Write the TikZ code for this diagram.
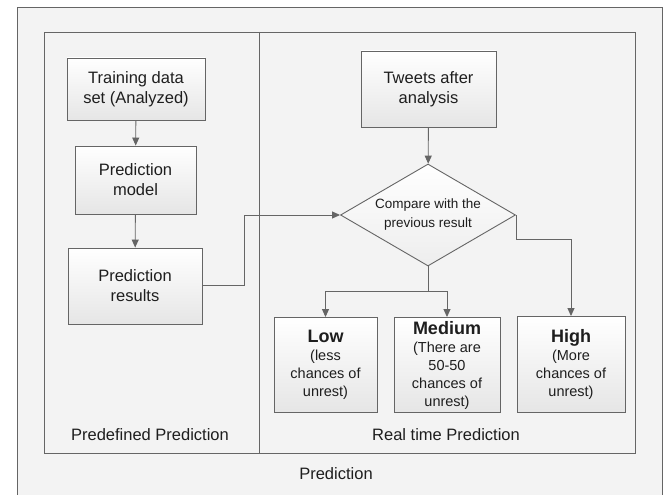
\documentclass[tikz,border=0pt]{standalone}
\usepackage{fontspec}
\setmainfont{Liberation Sans}
\usetikzlibrary{shapes.geometric,arrows.meta}

\definecolor{edge}{HTML}{656565}
\definecolor{ink}{HTML}{1E1E1E}
\definecolor{panel}{HTML}{F3F3F3}

\tikzset{
  boxnode/.style={draw=edge, line width=0.9pt, top color=white, bottom color=black!10,
    align=center, inner sep=0pt, text=ink, font=\fontsize{16.5}{20}\selectfont},
  levelnode/.style={boxnode, font=\fontsize{14.5}{18}\selectfont},
  decision/.style={diamond, draw=edge, line width=0.9pt, top color=white, bottom color=black!7,
    align=center, inner sep=0pt, text=ink, font=\fontsize{13.5}{19}\selectfont},
  flow/.style={draw=edge, line width=0.9pt, -{Triangle[length=8pt,width=7pt]}},
  caption/.style={text=ink, font=\fontsize{16.5}{20}\selectfont},
}

\begin{document}
\begin{tikzpicture}[x=1pt, y=-1pt]
  \useasboundingbox (0,0) rectangle (667,495);

  % outer frame and the two inner panels
  \filldraw[draw=edge, line width=0.9pt, fill=panel] (17,7) rectangle (662,500);
  \draw[edge, line width=0.9pt] (44,32) rectangle (635,453);
  \draw[edge, line width=0.9pt] (259,32) -- (259,453);

  % left panel: predefined prediction
  \node[boxnode, minimum width=138pt, minimum height=62pt] (train) at (136,89)
    {Training data\\set (Analyzed)};
  \node[boxnode, minimum width=121pt, minimum height=68pt] (model) at (135.5,180)
    {Prediction\\model};
  \node[boxnode, minimum width=134pt, minimum height=76pt] (results) at (135,286)
    {Prediction\\results};

  % right panel: real time prediction
  \node[boxnode, minimum width=135pt, minimum height=76pt] (tweets) at (428.5,89)
    {Tweets after\\analysis};
  \node[decision, minimum width=175pt, minimum height=102pt, shape aspect=1.72] (cmp) at (428,215)
    {Compare with the\\previous result};

  \node[levelnode, minimum width=103pt, minimum height=95pt] (low) at (325.5,365)
    {{\fontsize{18}{20}\selectfont\bfseries Low}\\(less\\chances of\\unrest)};
  \node[levelnode, minimum width=106pt, minimum height=95pt] (medium) at (447,365)
    {{\fontsize{18}{20}\selectfont\bfseries Medium}\\(There are\\50-50\\chances of\\unrest)};
  \node[levelnode, minimum width=108pt, minimum height=96pt] (high) at (571,364.5)
    {{\fontsize{18}{20}\selectfont\bfseries High}\\(More\\chances of\\unrest)};

  % routing points
  \coordinate (split) at (428,291);
  \coordinate (up1) at (244,285);
  \coordinate (up2) at (244,215);
  \coordinate (rt) at (571,239);

  % connectors
  \draw[flow] (train) -- (model);
  \draw[flow] (model) -- (results);
  \draw[flow] (results.east |- up1) -- (up1) -- (up2) -- (cmp.west);
  \draw[flow] (tweets) -- (cmp);
  \draw[flow] (cmp.south) -- (split) -| (low.north);
  \draw[flow] (split) -| (medium.north);
  \draw[flow] (cmp.east) -- (cmp.east |- rt) -- (rt) -- (high.north);

  % panel captions
  \node[caption] (capl) at (150,435) {Predefined Prediction};
  \node[caption] (capr) at (446,435) {Real time Prediction};
  \node[caption] (capm) at (336,474) {Prediction};
\end{tikzpicture}
\end{document}
